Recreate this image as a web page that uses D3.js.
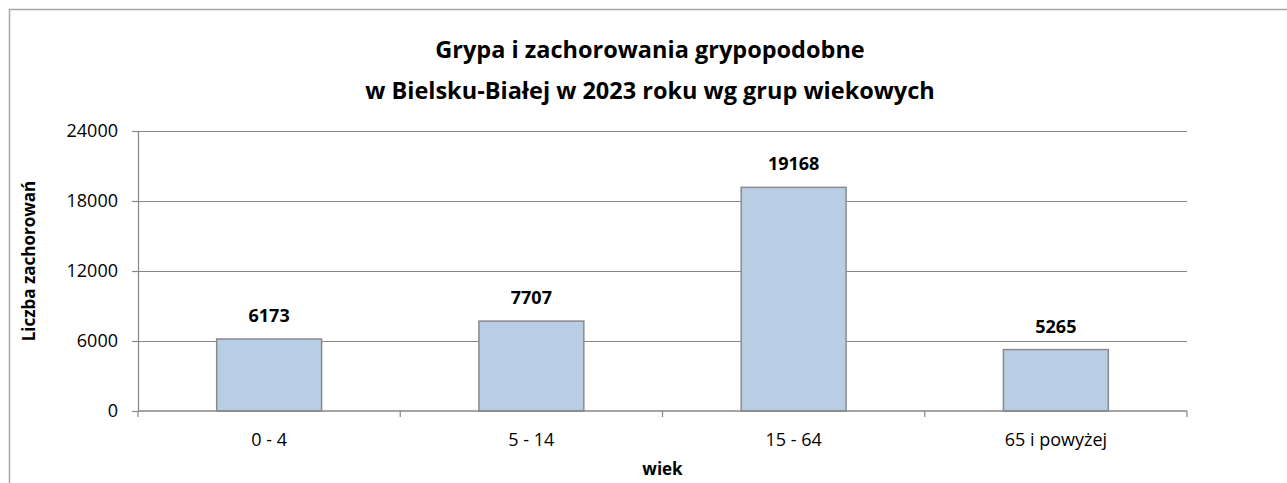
<!DOCTYPE html>
<html>
<head>
<meta charset="utf-8">
<script src="https://cdn.jsdelivr.net/npm/d3@7"></script>
<style>
  body { margin: 0; background: #fff; }
  svg { display: block; font-family: "Open Sans", Lato, sans-serif; }
</style>
</head>
<body>
<div id="wrapper"></div>
<script>
// data
const categories = ["0 - 4", "5 - 14", "15 - 64", "65 i powyżej"]
const values = [6173, 7707, 19168, 5265]
const yTicks = [0, 6000, 12000, 18000, 24000]
const titleLines = ["Grypa i zachorowania grypopodobne", "w Bielsku-Białej w 2023 roku wg grup wiekowych"]

const dimensions = {
  width: 1287,
  height: 483,
  margin: { top: 131, right: 100, bottom: 72, left: 138 },
}
dimensions.boundedWidth = dimensions.width - dimensions.margin.left - dimensions.margin.right
dimensions.boundedHeight = dimensions.height - dimensions.margin.top - dimensions.margin.bottom

const dataset = categories.map((c, i) => ({ cat: c, value: values[i] }))

const svg = d3.select("#wrapper").append("svg")
    .attr("width", dimensions.width)
    .attr("height", dimensions.height)

// chart frame (cut off on right/bottom like the original)
svg.append("rect")
    .attr("x", 9.5).attr("y", 9.5)
    .attr("width", 1300).attr("height", 500)
    .attr("fill", "none")
    .attr("stroke", "#a6a6a6")
    .attr("stroke-width", 1.5)

const bounds = svg.append("g")
    .attr("transform", `translate(${dimensions.margin.left},${dimensions.margin.top})`)

const xScale = d3.scaleBand()
    .domain(categories)
    .range([0, dimensions.boundedWidth])
    .paddingInner(0.6)
    .paddingOuter(0.3)

const xOuter = d3.scaleBand()
    .domain(categories)
    .range([0, dimensions.boundedWidth])

const yScale = d3.scaleLinear()
    .domain([0, 24000])
    .range([dimensions.boundedHeight, 0])

// gridlines
bounds.append("g")
  .selectAll("line")
  .data(yTicks.filter(d => d > 0))
  .join("line")
    .attr("x1", 0)
    .attr("x2", dimensions.boundedWidth)
    .attr("y1", d => Math.round(yScale(d)) + 0.5)
    .attr("y2", d => Math.round(yScale(d)) + 0.5)
    .attr("stroke", "#868686")
    .attr("stroke-width", 1.2)

// bars
bounds.append("g")
  .selectAll("rect")
  .data(dataset)
  .join("rect")
    .attr("x", d => xScale(d.cat))
    .attr("y", d => yScale(d.value))
    .attr("width", xScale.bandwidth())
    .attr("height", d => dimensions.boundedHeight - yScale(d.value))
    .attr("fill", "#b9cde5")
    .attr("stroke", "#8a8a8a")
    .attr("stroke-width", 1.5)

// value labels
bounds.append("g")
  .selectAll("text")
  .data(dataset)
  .join("text")
    .attr("x", d => xScale(d.cat) + xScale.bandwidth() / 2)
    .attr("y", d => yScale(d.value) - 17)
    .attr("text-anchor", "middle")
    .attr("font-weight", "bold")
    .attr("font-size", 18)
    .attr("fill", "#000")
    .text(d => d.value)

// y axis
const yAxisGenerator = d3.axisLeft(yScale)
    .tickValues(yTicks)
    .tickSize(6)
    .tickFormat(d => d)

const yAxis = bounds.append("g").call(yAxisGenerator)
yAxis.select(".domain").attr("stroke", "#868686").attr("stroke-width", 1.2)
yAxis.selectAll(".tick line").attr("stroke", "#868686").attr("stroke-width", 1.2)
yAxis.selectAll(".tick text")
    .attr("x", -20)
    .attr("font-size", 18)
    .attr("font-family", "'Open Sans', sans-serif")
    .attr("fill", "#000")

// x axis
const xAxis = bounds.append("g")
    .attr("transform", `translate(0,${dimensions.boundedHeight})`)

xAxis.append("line")
    .attr("x1", 0).attr("x2", dimensions.boundedWidth)
    .attr("y1", 0).attr("y2", 0)
    .attr("stroke", "#868686")
    .attr("stroke-width", 1.5)

const boundaries = categories.map(c => xOuter(c)).concat([dimensions.boundedWidth])
xAxis.selectAll(".cat-tick")
  .data(boundaries)
  .join("line")
    .attr("class", "cat-tick")
    .attr("x1", d => d).attr("x2", d => d)
    .attr("y1", 0).attr("y2", 6)
    .attr("stroke", "#868686")
    .attr("stroke-width", 1.2)

xAxis.selectAll(".cat-label")
  .data(categories)
  .join("text")
    .attr("class", "cat-label")
    .attr("x", d => xOuter(d) + xOuter.bandwidth() / 2)
    .attr("y", 35)
    .attr("text-anchor", "middle")
    .attr("font-size", 18)
    .attr("fill", "#000")
    .text(d => d)

// axis titles
svg.append("text")
    .attr("x", dimensions.margin.left + dimensions.boundedWidth / 2)
    .attr("y", 475)
    .attr("text-anchor", "middle")
    .attr("font-weight", "bold")
    .attr("font-size", 17)
    .text("wiek")

svg.append("text")
    .attr("transform", "translate(35,261) rotate(-90)")
    .attr("text-anchor", "middle")
    .attr("font-weight", "bold")
    .attr("font-size", 17)
    .text("Liczba zachorowań")

// title
svg.append("g")
  .selectAll("text")
  .data(titleLines)
  .join("text")
    .attr("x", 650)
    .attr("y", (d, i) => 58 + i * 41)
    .attr("text-anchor", "middle")
    .attr("font-weight", "bold")
    .attr("font-size", 23.5)
    .text(d => d)
</script>
</body>
</html>
